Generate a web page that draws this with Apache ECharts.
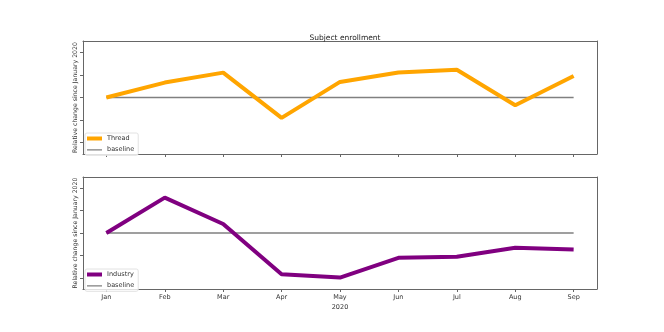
<!DOCTYPE html>
<html>
<head>
<meta charset="utf-8">
<script src="https://cdn.jsdelivr.net/npm/echarts@6/dist/echarts.min.js"></script>
<style>html,body{margin:0;padding:0;background:#fff}#c{width:664px;height:332px}</style>
</head>
<body>
<div id="c"></div>
<script>
var months = ['Jan','Feb','Mar','Apr','May','Jun','Jul','Aug','Sep'];
var threadValues = [0, 0.66, 1.10, -0.90, 0.69, 1.11, 1.23, -0.34, 0.95];
var industryValues = [0, 1.58, 0.40, -1.84, -1.99, -1.11, -1.06, -0.66, -0.74];
var baselineValues = [0, 0, 0, 0, 0, 0, 0, 0, 0];
var yTicks = [-2, -1, 0, 1, 2];
var xTicks = [0, 1, 2, 3, 4, 5, 6, 7, 8];

function pts(arr){ return arr.map(function(v,i){ return [i, v]; }); }

var font = 'DejaVu Sans';
var spine = '#666';
var axisLine = {show:true, onZero:false, lineStyle:{color:spine, width:1}};
function xAxis(idx, showLabels){
  return {
    type:'value', gridIndex: idx, min:-0.4, max:8.4,
    axisLine: axisLine,
    axisTick:{show:true, length:3, customValues: xTicks, lineStyle:{color:spine}},
    axisLabel:{show: showLabels, customValues: xTicks, fontSize:6.5, fontFamily:font, color:'#333', margin:5,
      formatter:function(v){ return months[Math.round(v)] || ''; }},
    splitLine:{show:false},
    name: showLabels ? '2020' : '', nameLocation:'middle', nameGap:15,
    nameTextStyle:{fontSize:6.5, fontFamily:font, color:'#333'}
  };
}
function yAxis(idx){
  return {
    type:'value', gridIndex: idx, min:-2.5, max:2.5,
    axisLine: axisLine,
    axisTick:{show:true, length:3, customValues: yTicks, lineStyle:{color:spine}},
    axisLabel:{show:false},
    splitLine:{show:false},
    name:'Relative change since January 2020', nameLocation:'middle', nameGap:5,
    nameTextStyle:{fontSize:6.2, fontFamily:font, color:'#333'}
  };
}
function frameX(idx){
  return {type:'value', gridIndex: idx, position:'top', min:0, max:1, axisLine:axisLine, axisTick:{show:false}, axisLabel:{show:false}, splitLine:{show:false}};
}
function frameY(idx){
  return {type:'value', gridIndex: idx, position:'right', min:0, max:1, axisLine:axisLine, axisTick:{show:false}, axisLabel:{show:false}, splitLine:{show:false}};
}

var thickIcon = 'path://M0,0H15V4H0Z';
var thinIcon = 'path://M0,0H0.01V0.01H0Z M0,1.4H15V2.6H0Z M14.99,3.99H15V4H14.99Z';

function legend(mainName, top){
  return {
    data:[{name:mainName, icon:thickIcon}, {name:'baseline', icon:thinIcon}],
    orient:'vertical', left:85, top:top, itemWidth:15, itemHeight:4, itemGap:4.3,
    textStyle:{fontSize:6.5, fontFamily:font, color:'#333'}, padding:[2,4,2,2],
    borderColor:'#e2e2e2', borderWidth:1, borderRadius:2, backgroundColor:'rgba(255,255,255,0.8)'
  };
}

var chart = echarts.init(document.getElementById('c'), null, {renderer:'canvas'});
chart.setOption({
  animation:false,
  backgroundColor:'#fff',
  title:{text:'Subject enrollment', left:340, top:29, textAlign:'center',
    textStyle:{fontSize:7.5, fontWeight:'normal', fontFamily:font, color:'#222'}},
  grid:[
    {left:83, right:67, top:41, height:113},
    {left:83, right:67, top:177, height:112}
  ],
  xAxis:[xAxis(0,false), xAxis(1,true), frameX(0), frameX(1)],
  yAxis:[yAxis(0), yAxis(1), frameY(0), frameY(1)],
  legend:[legend('Thread', 133), legend('Industry', 269)],
  series:[
    {name:'baseline', type:'line', xAxisIndex:0, yAxisIndex:0, data:pts(baselineValues), showSymbol:false, symbol:'none',
     lineStyle:{color:'#808080', width:1.5}, itemStyle:{color:'#808080'}, z:2},
    {name:'Thread', type:'line', xAxisIndex:0, yAxisIndex:0, data:pts(threadValues), showSymbol:false, symbol:'none',
     lineStyle:{color:'#FFA500', width:4}, itemStyle:{color:'#FFA500'}, z:3},
    {name:'baseline', type:'line', xAxisIndex:1, yAxisIndex:1, data:pts(baselineValues), showSymbol:false, symbol:'none',
     lineStyle:{color:'#808080', width:1.5}, itemStyle:{color:'#808080'}, z:2},
    {name:'Industry', type:'line', xAxisIndex:1, yAxisIndex:1, data:pts(industryValues), showSymbol:false, symbol:'none',
     lineStyle:{color:'#800080', width:4}, itemStyle:{color:'#800080'}, z:3}
  ]
});
</script>
</body>
</html>
